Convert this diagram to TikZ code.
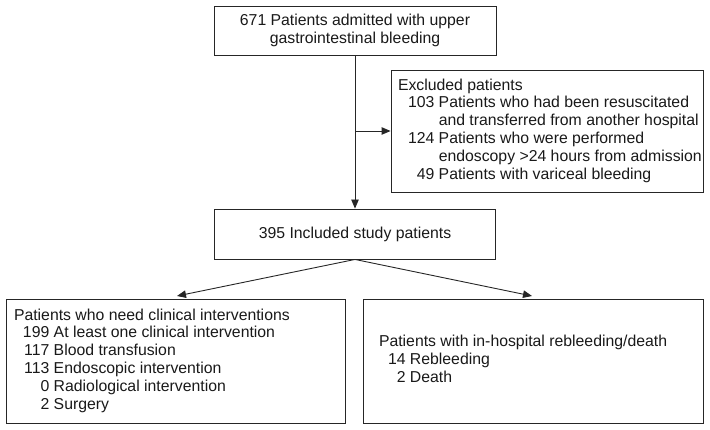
\documentclass[tikz,border=0pt]{standalone}
\usepackage{fontspec}
\setmainfont{Liberation Sans}
\usetikzlibrary{arrows.meta}
\begin{document}
\begin{tikzpicture}[x=1pt,y=-1pt,
  box/.style={draw=black!85, line width=0.9pt, inner sep=0pt,
    font=\fontsize{15.8}{17.8}\selectfont, text=black!90},
  conn/.style={draw=black!85, line width=0.9pt, -{Triangle[length=9pt,width=7.5pt]}},
]
\useasboundingbox (0,0) rectangle (710,430);

\node[box, minimum width=282pt, minimum height=49pt, align=center] (adm) at (355,30.5)
  {671 Patients admitted with upper\\gastrointestinal bleeding};

\node[box, minimum width=312pt, minimum height=122pt] (exc) at (547,131)
  {\begin{minipage}{298pt}\begin{tabular}{@{\hspace{10pt}}r@{ }l@{}}
   \multicolumn{2}{@{}l@{}}{Excluded patients}\\
   103 & Patients who had been resuscitated\\
       & and transferred from another hospital\\
   124 & Patients who were performed\\
       & endoscopy >24 hours from admission\\
   49  & Patients with variceal bleeding
   \end{tabular}\end{minipage}};

\node[box, minimum width=281pt, minimum height=50pt] (inc) at (355,234)
  {395 Included study patients};

\node[box, minimum width=339pt, minimum height=124pt] (lft) at (175.5,361)
  {\begin{minipage}{323pt}\begin{tabular}{@{\hspace{9pt}}r@{ }l@{}}
   \multicolumn{2}{@{}l@{}}{Patients who need clinical interventions}\\
   199 & At least one clinical intervention\\
   117 & Blood transfusion\\
   113 & Endoscopic intervention\\
   0   & Radiological intervention\\
   2   & Surgery
   \end{tabular}\end{minipage}};

\node[box, minimum width=340pt, minimum height=124pt] (rgt) at (533,361)
  {\begin{minipage}{308pt}\begin{tabular}{@{\hspace{9pt}}r@{ }l@{}}
   \multicolumn{2}{@{}l@{}}{Patients with in-hospital rebleeding/death}\\
   14 & Rebleeding\\
   2  & Death
   \end{tabular}\end{minipage}};

\coordinate (lt) at (177,296);
\coordinate (rt) at (532,296);

\draw[conn] (adm.south) -- (inc.north);
\draw[conn] (adm.south |- exc.west) -- (exc.west);
\draw[conn] (inc.south) -- (lt);
\draw[conn] (inc.south) -- (rt);
\end{tikzpicture}
\end{document}
